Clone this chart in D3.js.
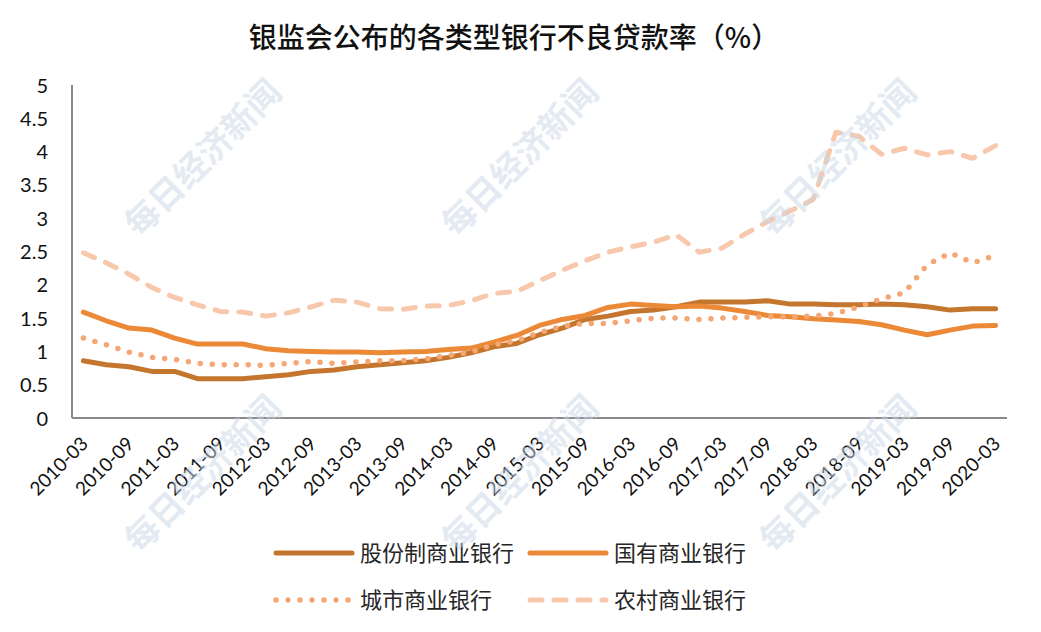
<!DOCTYPE html>
<html><head><meta charset="utf-8">
<script src="https://cdn.jsdelivr.net/npm/d3@7"></script>
<style>
html,body{margin:0;padding:0;background:#fff;}
svg{display:block;}
</style></head>
<body>
<svg id="chart" width="1041" height="632"></svg>
<script>
const title = "银监会公布的各类型银行不良贷款率（%）";
const categories = ["2010-03","2010-06","2010-09","2010-12","2011-03","2011-06","2011-09","2011-12",
"2012-03","2012-06","2012-09","2012-12","2013-03","2013-06","2013-09","2013-12",
"2014-03","2014-06","2014-09","2014-12","2015-03","2015-06","2015-09","2015-12",
"2016-03","2016-06","2016-09","2016-12","2017-03","2017-06","2017-09","2017-12",
"2018-03","2018-06","2018-09","2018-12","2019-03","2019-06","2019-09","2019-12","2020-03"];
const tickLabels = ["2010-03","2010-09","2011-03","2011-09","2012-03","2012-09","2013-03","2013-09",
"2014-03","2014-09","2015-03","2015-09","2016-03","2016-09","2017-03","2017-09","2018-03","2018-09",
"2019-03","2019-09","2020-03"];
const yTicks = [0,0.5,1,1.5,2,2.5,3,3.5,4,4.5,5];
const seriesNames = ["股份制商业银行","国有商业银行","城市商业银行","农村商业银行"];
const jointStock = [0.86,0.80,0.77,0.70,0.70,0.59,0.59,0.59,0.62,0.65,0.70,0.72,0.77,0.80,0.83,0.86,
0.91,0.98,1.07,1.12,1.25,1.35,1.48,1.53,1.60,1.62,1.67,1.74,1.74,1.74,1.76,1.71,
1.71,1.70,1.70,1.71,1.70,1.67,1.62,1.64,1.64];
const stateOwned = [1.59,1.46,1.35,1.32,1.20,1.11,1.11,1.11,1.04,1.01,1.00,0.99,0.99,0.98,0.99,1.00,
1.03,1.05,1.14,1.24,1.39,1.48,1.54,1.66,1.71,1.69,1.67,1.68,1.65,1.60,1.54,1.52,
1.49,1.47,1.45,1.40,1.32,1.25,1.32,1.38,1.39];
const cityBanks = [1.20,1.10,0.99,0.91,0.88,0.82,0.80,0.80,0.79,0.82,0.85,0.82,0.84,0.86,0.86,0.89,
0.94,0.99,1.10,1.16,1.28,1.38,1.42,1.42,1.46,1.50,1.50,1.48,1.50,1.51,1.52,1.52,
1.53,1.57,1.67,1.79,1.88,2.30,2.48,2.33,2.44];
const ruralBanks = [2.48,2.33,2.16,1.96,1.81,1.70,1.60,1.59,1.53,1.58,1.67,1.77,1.74,1.64,1.63,1.68,
1.69,1.76,1.87,1.90,2.06,2.22,2.36,2.49,2.57,2.64,2.75,2.49,2.55,2.76,2.95,3.11,
3.28,4.29,4.23,3.96,4.05,3.95,4.00,3.90,4.09];
const watermark = "每日经济新闻";

const allSeries = [jointStock, stateOwned, cityBanks, ruralBanks];
const styles = [
  {color:"#C4762E", dash:null, width:5},
  {color:"#EC8936", dash:null, width:5},
  {color:"#F4A775", dash:"0 12", width:5.5},
  {color:"#F8C8AC", dash:"12 12", width:5}
];

const svg = d3.select("#chart");
const plotLeft = 72, plotRight = 1007, plotTop = 85, plotBottom = 418;

const x = d3.scaleBand().domain(categories).range([plotLeft, plotRight]);
const cx = d => x(d) + x.bandwidth()/2;
const y = d3.scaleLinear().domain([0,5]).range([plotBottom, plotTop]);

// title
svg.append("text").attr("x", 514).attr("y", 48).attr("text-anchor","middle")
  .attr("font-family","'Noto Sans CJK SC'").attr("font-size",28).attr("font-weight",500)
  .attr("fill","#111").text(title);

// y axis labels
const yAxis = d3.axisLeft(y).tickValues(yTicks).tickSize(0).tickPadding(0).tickFormat(d=>String(d));
const gy = svg.append("g").attr("transform",`translate(48,0)`).call(yAxis);
gy.select(".domain").remove();
gy.selectAll("text").attr("font-family","Lato, 'Liberation Sans'").attr("font-size",20).attr("fill","#111")
  .attr("x",0).attr("dy","0.35em");

// axis lines
svg.append("line").attr("x1",plotLeft).attr("x2",plotLeft).attr("y1",plotTop).attr("y2",plotBottom)
  .attr("stroke","#8a8a8a").attr("stroke-width",2);
svg.append("line").attr("x1",plotLeft).attr("x2",plotRight).attr("y1",plotBottom).attr("y2",plotBottom)
  .attr("stroke","#8a8a8a").attr("stroke-width",2);

// x axis labels
const xAxis = d3.axisBottom(x).tickValues(tickLabels).tickSize(0).tickPadding(0);
const gx = svg.append("g").attr("transform",`translate(0,${plotBottom})`).call(xAxis);
gx.select(".domain").remove();
gx.selectAll(".tick text")
  .attr("font-family","Lato, 'Liberation Sans'").attr("font-size",19).attr("fill","#111")
  .attr("text-anchor","end").attr("dy",0).attr("y",0)
  .attr("transform","translate(6,27) rotate(-45)");

// lines
const line = d3.line().x((d,i)=>cx(categories[i])).y(d=>y(d));
allSeries.forEach((s,k)=>{
  const p = svg.append("path").datum(s).attr("d",line).attr("fill","none")
    .attr("stroke",styles[k].color).attr("stroke-width",styles[k].width)
    .attr("stroke-linejoin","round").attr("stroke-linecap","round");
  if(styles[k].dash) p.attr("stroke-dasharray",styles[k].dash);
});

// legend
const legendPos = [[276,553],[530,553],[276,600],[530,600]];
seriesNames.forEach((n,k)=>{
  const [lx,ly] = legendPos[k];
  const l = svg.append("line").attr("x1",lx).attr("x2",lx+76).attr("y1",ly).attr("y2",ly)
    .attr("stroke",styles[k].color).attr("stroke-width",styles[k].width).attr("stroke-linecap","round");
  if(styles[k].dash) l.attr("stroke-dasharray",styles[k].dash);
  svg.append("text").attr("x",lx+84).attr("y",ly).attr("dy","0.36em")
    .attr("font-family","'Noto Sans CJK SC'").attr("font-size",22).attr("fill","#262626").text(n);
});

// watermark
const wmPos = [[203,158],[520,158],[838,158],[203,474],[520,474],[838,474]];
wmPos.forEach(([wx,wy])=>{
  svg.append("text").attr("transform",`translate(${wx},${wy}) rotate(-45)`)
    .attr("text-anchor","middle").attr("dy","0.35em")
    .attr("font-family","'Noto Sans CJK SC'").attr("font-weight",700).attr("font-size",34)
    .attr("fill","#c9d6e6").attr("fill-opacity",0.5).text(watermark);
});
</script>
</body></html>
